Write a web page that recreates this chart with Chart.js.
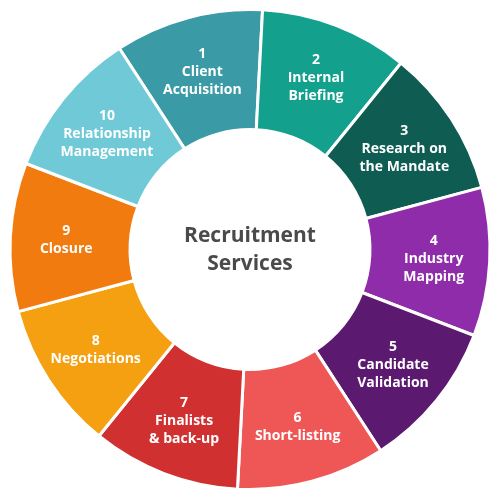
<!DOCTYPE html>
<html><head><meta charset="utf-8">
<script src="https://cdn.jsdelivr.net/npm/chart.js@4"></script>
<style>html,body{margin:0;padding:0;background:#fff}#w{width:500px;height:499px}</style>
</head><body><div id="w"><canvas id="c"></canvas></div>
<script>
const steps = [["1","Client","Acquisition"],["2","Internal","Briefing"],["3","Research on","the Mandate"],["4","Industry","Mapping"],["5","Candidate","Validation"],["6","Short-listing"],["7","Finalists","& back-up"],["8","Negotiations"],["9","Closure"],["10","Relationship","Management"]];
const values = [1,1,1,1,1,1,1,1,1,1];
const colors = ["#3a9aa6","#13a08d","#0e5c52","#8f2ca9","#5b1a70","#ef5757","#d03030","#f5a011","#f27b0f","#70c9d7"];
const centerTitle = ["Recruitment","Services"];
const labelPlugin = {id:'lbl',afterDraw(ch){
  const ctx=ch.ctx; const meta=ch.getDatasetMeta(0);
  ctx.save(); ctx.textAlign='center'; ctx.textBaseline='middle';
  meta.data.forEach((a,i)=>{
    const p=a.getProps(['startAngle','endAngle','innerRadius','outerRadius','x','y'],true);
    const m=(p.startAngle+p.endAngle)/2; const r=(p.innerRadius+p.outerRadius)/2+4;
    const x=p.x+Math.cos(m)*r, y=p.y+Math.sin(m)*r;
    const lines=steps[i]; const lh=18; const y0=y-(lines.length-1)*lh/2;
    ctx.fillStyle='#fff'; ctx.font='bold 14px "Open Sans"';
    lines.forEach((t,j)=>ctx.fillText(t,x,y0+j*lh));
  });
  const c=meta.data[0];
  ctx.fillStyle='#4a4a4a'; ctx.font='bold 21px "Open Sans"';
  ctx.fillText(centerTitle[0],c.x,c.y-13); ctx.fillText(centerTitle[1],c.x,c.y+15);
  ctx.restore();
}};
new Chart(document.getElementById('c'),{type:'doughnut',
 data:{labels:steps.map(s=>s.join(' ')),datasets:[{data:values,backgroundColor:colors,borderColor:'#fff',borderWidth:3,hoverOffset:0}]},
 options:{responsive:true,maintainAspectRatio:false,animation:false,rotation:-33,cutout:'50%',
  layout:{padding:8},plugins:{legend:{display:false},tooltip:{enabled:false}}},
 plugins:[labelPlugin]});
</script></body></html>
